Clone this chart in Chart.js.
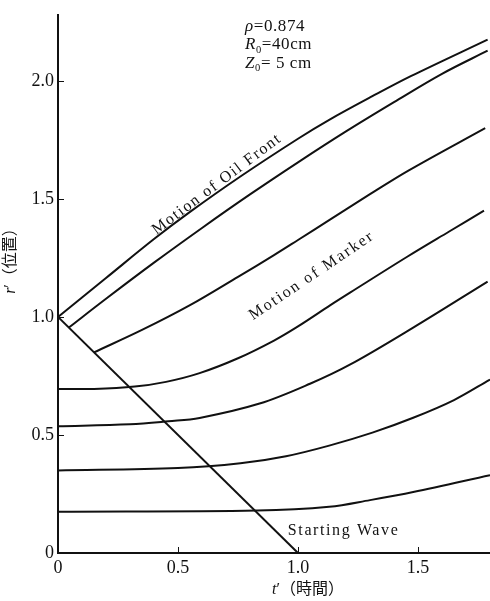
<!DOCTYPE html>
<html><head><meta charset="utf-8">
<script src="https://cdn.jsdelivr.net/npm/chart.js@4.4.1/dist/chart.umd.min.js"></script>
<style>html,body{margin:0;padding:0;background:#fff;}canvas{display:block;}</style>
</head><body>
<canvas id="c" width="490" height="601"></canvas>
<script>
// ---- tick values / labels ----
const xTicks = [0, 0.5, 1.0, 1.5];
const xTickLabels = ['0', '0.5', '1.0', '1.5'];
const yTicks = [0, 0.5, 1.0, 1.5, 2.0];
const yTickLabels = ['0', '0.5', '1.0', '1.5', '2.0'];

// ---- curves: t' (time) and r' (position) ----
const oilFrontT = [0, 0.2, 0.4, 0.55, 0.76, 1.0, 1.13, 1.31, 1.47, 1.79];
const oilFrontR = [1.0, 1.165, 1.33, 1.445, 1.595, 1.755, 1.835, 1.935, 2.02, 2.175];

const marker1T = [0.045, 0.2, 0.4, 0.6, 0.8, 1.0, 1.2, 1.4, 1.6, 1.79];
const marker1R = [0.955, 1.077, 1.23, 1.377, 1.519, 1.655, 1.786, 1.91, 2.03, 2.128];

const marker2T = [0.15, 0.35, 0.55, 0.75, 0.9, 1.0, 1.13, 1.3, 1.46, 1.78];
const marker2R = [0.85, 0.945, 1.05, 1.17, 1.262, 1.326, 1.41, 1.52, 1.62, 1.80];

const marker3T = [0, 0.15, 0.32, 0.45, 0.59, 0.75, 0.9, 1.0, 1.135, 1.22, 1.455, 1.63, 1.775];
const marker3R = [0.695, 0.695, 0.705, 0.725, 0.762, 0.825, 0.9, 0.96, 1.05, 1.105, 1.255, 1.362, 1.45];

const marker4T = [0, 0.3, 0.46, 0.59, 0.84, 1.05, 1.22, 1.48, 1.79];
const marker4R = [0.537, 0.545, 0.558, 0.572, 0.633, 0.717, 0.80, 0.955, 1.15];

const marker5T = [0, 0.5, 0.76, 0.95, 1.13, 1.31, 1.48, 1.65, 1.8];
const marker5R = [0.35, 0.36, 0.38, 0.41, 0.455, 0.51, 0.573, 0.648, 0.735];

const marker6T = [0, 0.83, 1.13, 1.3, 1.48, 1.8];
const marker6R = [0.175, 0.18, 0.196, 0.224, 0.258, 0.33];

const waveT = [0, 1.0];
const waveR = [1.0, 0];

// ---- texts ----
const noteTexts = ['Motion of Oil Front', 'Motion of Marker', 'Starting Wave'];
const xTitle = [{t: 't', it: true}, {t: '′（時間）'}];
const yTitle = [{t: 'r', it: true}, {t: '′（位置）'}];
const paramLines = [
  [{t: 'ρ', it: true}, {t: '=0.874'}],
  [{t: 'R', it: true}, {t: '0', sub: true}, {t: '=40cm'}],
  [{t: 'Z', it: true}, {t: '0', sub: true}, {t: '= 5 cm'}]
];

const SERIF = "'Liberation Serif','DejaVu Serif','Noto Sans CJK JP',serif";
const INK = '#111';

function pts(ts, rs) { return ts.map((t, i) => ({x: t, y: rs[i]})); }
function curve(label, ts, rs, smooth) {
  return {
    label, data: pts(ts, rs), borderColor: INK, borderWidth: 2,
    pointRadius: 0, fill: false, tension: smooth ? 0.35 : 0
  };
}

function segWidth(ctx, segs, size) {
  let w = 0;
  for (const s of segs) {
    const fs = s.sub ? size * 0.62 : size;
    ctx.font = (s.it ? 'italic ' : '') + fs + 'px ' + SERIF;
    w += ctx.measureText(s.t).width;
  }
  return w;
}
function drawSegs(ctx, segs, x, y, size) {
  let cx = x;
  for (const s of segs) {
    const fs = s.sub ? size * 0.62 : size;
    ctx.font = (s.it ? 'italic ' : '') + fs + 'px ' + SERIF;
    ctx.fillText(s.t, cx, y + (s.sub ? size * 0.22 : 0));
    cx += ctx.measureText(s.t).width;
  }
}

const notePlacement = [
  {t: 0.6625, r: 1.5625, angle: -37, size: 16, spacing: 1.6},
  {t: 1.058, r: 1.175, angle: -34, size: 16, spacing: 2},
  {t: 1.19, r: 0.096, angle: 0, size: 16, spacing: 1.6}
];

const decor = {
  id: 'decor',
  afterDraw(chart) {
    const ctx = chart.ctx, xs = chart.scales.x, ys = chart.scales.y, ca = chart.chartArea;
    ctx.save();
    ctx.strokeStyle = INK; ctx.fillStyle = INK; ctx.lineWidth = 1;
    // inward tick marks
    xs.ticks.forEach(tk => {
      if (tk.value === 0) return;
      const px = Math.round(xs.getPixelForValue(tk.value)) + 0.5;
      ctx.beginPath(); ctx.moveTo(px, ca.bottom); ctx.lineTo(px, ca.bottom - 6); ctx.stroke();
    });
    ys.ticks.forEach(tk => {
      if (tk.value === 0) return;
      const py = Math.round(ys.getPixelForValue(tk.value)) + 0.5;
      ctx.beginPath(); ctx.moveTo(ca.left, py); ctx.lineTo(ca.left + 6, py); ctx.stroke();
    });
    // curve notes
    ctx.textBaseline = 'middle'; ctx.textAlign = 'center';
    notePlacement.forEach((p, i) => {
      ctx.save();
      ctx.translate(xs.getPixelForValue(p.t), ys.getPixelForValue(p.r));
      ctx.rotate(p.angle * Math.PI / 180);
      ctx.font = p.size + 'px ' + SERIF;
      ctx.letterSpacing = p.spacing + 'px';
      ctx.fillText(noteTexts[i], 0, 0);
      ctx.restore();
    });
    // parameters block
    ctx.textAlign = 'left'; ctx.textBaseline = 'alphabetic';
    const px0 = xs.getPixelForValue(0.779), py0 = ys.getPixelForValue(2.2125);
    paramLines.forEach((segs, i) => {
      ctx.letterSpacing = '0.6px';
      drawSegs(ctx, segs, px0, py0 + i * 18.5, 17);
    });
    ctx.letterSpacing = '0px';
    // axis titles
    ctx.textBaseline = 'middle';
    const xw = segWidth(ctx, xTitle, 16);
    drawSegs(ctx, xTitle, 308 - xw / 2, 590, 16);
    ctx.save();
    ctx.translate(11, 257); ctx.rotate(-Math.PI / 2);
    const yw = segWidth(ctx, yTitle, 16);
    drawSegs(ctx, yTitle, -yw / 2, 0, 16);
    ctx.restore();
    ctx.restore();
  }
};

new Chart(document.getElementById('c'), {
  type: 'line',
  data: {
    datasets: [
      curve('Oil front', oilFrontT, oilFrontR, true),
      curve('Marker 1', marker1T, marker1R, true),
      curve('Marker 2', marker2T, marker2R, true),
      curve('Marker 3', marker3T, marker3R, true),
      curve('Marker 4', marker4T, marker4R, true),
      curve('Marker 5', marker5T, marker5R, true),
      curve('Marker 6', marker6T, marker6R, true),
      curve('Starting wave', waveT, waveR, false)
    ]
  },
  options: {
    responsive: false, animation: false, devicePixelRatio: 1,
    layout: {padding: {top: 5, left: 0, right: 0, bottom: 0}},
    plugins: {legend: {display: false}, tooltip: {enabled: false}},
    scales: {
      x: {
        type: 'linear', min: 0, max: 1.8,
        grid: {display: false, drawTicks: false},
        border: {display: true, color: INK, width: 2},
        afterBuildTicks: s => { s.ticks = xTicks.map(v => ({value: v})); },
        afterFit: s => { s.height = 48; },
        ticks: {
          padding: 4, color: INK, maxRotation: 0, autoSkip: false,
          font: {family: SERIF, size: 18},
          callback: (v, i) => xTickLabels[i]
        }
      },
      y: {
        type: 'linear', min: 0, max: 2.28,
        grid: {display: false, drawTicks: false},
        border: {display: true, color: INK, width: 2},
        afterBuildTicks: s => { s.ticks = yTicks.map(v => ({value: v})); },
        afterFit: s => { s.width = 58; },
        ticks: {
          padding: 4, color: INK, autoSkip: false,
          font: {family: SERIF, size: 18},
          callback: (v, i) => yTickLabels[i]
        }
      }
    }
  },
  plugins: [decor]
});
</script>
</body></html>
